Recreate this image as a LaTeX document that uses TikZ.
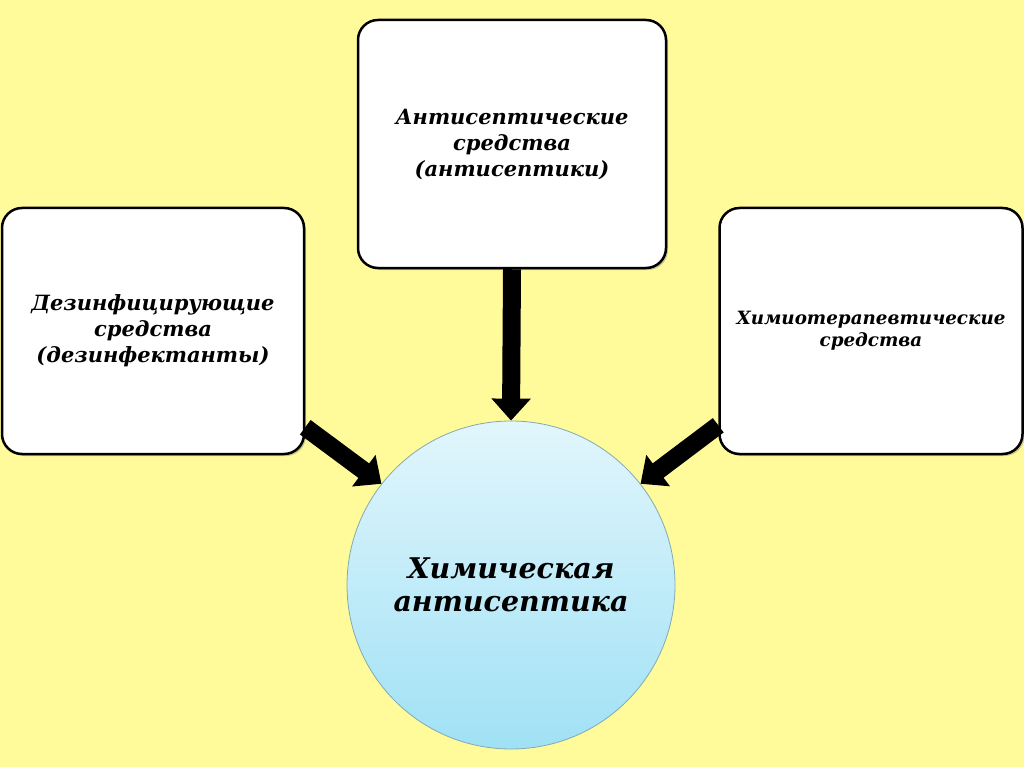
\documentclass[tikz,border=0pt]{standalone}
\usepackage{fontspec}
\setmainfont{DejaVu Serif}
\usetikzlibrary{arrows.meta,shadows}
\definecolor{bgyellow}{RGB}{255,251,155}
\definecolor{circtop}{RGB}{226,246,252}
\definecolor{circbot}{RGB}{160,225,245}
\definecolor{circedge}{RGB}{130,170,175}
\tikzset{
  boxnode/.style={draw=black, line width=2.5pt, fill=white, rounded corners=20pt,
    align=center, font=\bfseries\itshape, inner sep=0pt,
    drop shadow={shadow xshift=2pt, shadow yshift=-2pt, opacity=0.35, fill=black!60}},
  bigarrow/.style={line width=18pt, draw=black,
    -{Triangle[width=38pt,length=22pt]}},
}
\begin{document}
\begin{tikzpicture}[x=1pt,y=-1pt]
\fill[bgyellow] (0,0) rectangle (1024,767);
\useasboundingbox (0,0) rectangle (1024,767);
\node[boxnode, minimum width=308pt, minimum height=248pt,
  font=\fontsize{21}{26}\selectfont\bfseries\itshape] (top) at (512,144)
  {Антисептические\\средства\\(антисептики)};
\node[boxnode, minimum width=302pt, minimum height=246pt,
  font=\fontsize{21}{26}\selectfont\bfseries\itshape] (left) at (153,331)
  {Дезинфицирующие\\средства\\(дезинфектанты)};
\node[boxnode, minimum width=303pt, minimum height=246pt,
  font=\fontsize{18.3}{22}\selectfont\bfseries\itshape] (right) at (871,331)
  {Химиотерапевтические\\средства};
\node[circle, minimum size=328pt, inner sep=0pt, draw=circedge, line width=0.8pt,
  top color=circtop, bottom color=circbot, align=center,
  font=\fontsize{28.5}{33}\selectfont\bfseries\itshape] (circ) at (511,585)
  {Химическая\\антисептика};
\draw[bigarrow] (top.south) -- (circ.north);
\draw[bigarrow] ([yshift=28pt]left.south east) -- (circ.142);
\draw[bigarrow] ([yshift=30pt]right.south west) -- (circ.38);
\end{tikzpicture}
\end{document}
